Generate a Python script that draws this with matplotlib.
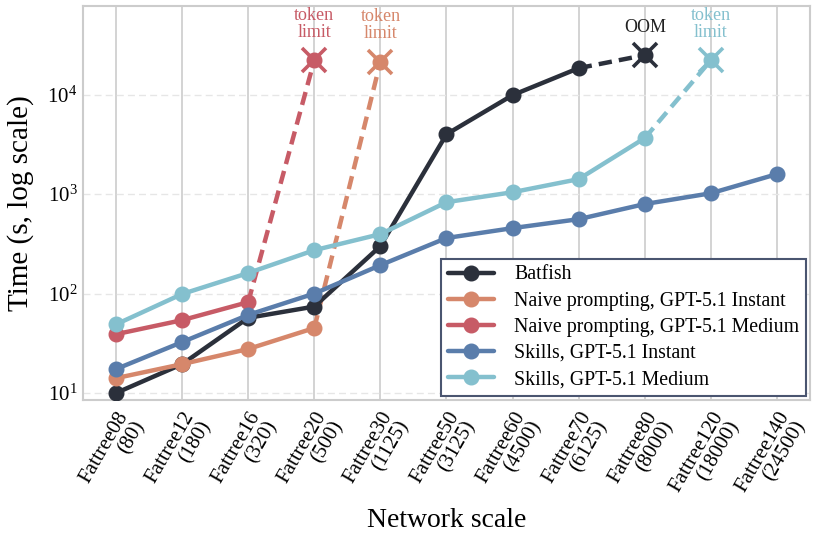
import matplotlib
matplotlib.use("Agg")
import matplotlib.pyplot as plt
import numpy as np

categories = ["Fattree08\n(80)", "Fattree12\n(180)", "Fattree16\n(320)", "Fattree20\n(500)",
              "Fattree30\n(1125)", "Fattree50\n(3125)", "Fattree60\n(4500)", "Fattree70\n(6125)",
              "Fattree80\n(8000)", "Fattree120\n(18000)", "Fattree140\n(24500)"]

batfish = [10, 19.5, 57, 74, 300, 4000, 9900, 18500]
batfish_fail = 25000  # OOM at Fattree80
naive_instant = [14.1, 19.5, 27.7, 45]
naive_instant_fail = 21500  # token limit at Fattree30
naive_medium = [39, 54, 82]
naive_medium_fail = 22300  # token limit at Fattree20
skills_instant = [17.4, 32.5, 61, 100, 193, 362, 455, 560, 795, 1020, 1590]
skills_medium = [49, 99, 161, 273, 396, 830, 1045, 1415, 3660]
skills_medium_fail = 22200  # token limit at Fattree120

colors = {
    "Batfish": "#2b303b",
    "Naive prompting, GPT-5.1 Instant": "#d6876b",
    "Naive prompting, GPT-5.1 Medium": "#c75b66",
    "Skills, GPT-5.1 Instant": "#5a7dab",
    "Skills, GPT-5.1 Medium": "#84c0ce",
}

plt.rcParams['font.family'] = ['Liberation Serif', 'DejaVu Serif']
plt.rcParams['mathtext.fontset'] = 'stix'

fig = plt.figure(figsize=(8.15, 5.34), dpi=100)
ax = fig.add_axes([83/815, 1 - 400/534, (810-83)/815, (400-6)/534])

lw = 3.2
ms = 10.5

series = [
    ("Batfish", batfish, batfish_fail, "OOM"),
    ("Naive prompting, GPT-5.1 Instant", naive_instant, naive_instant_fail, "token\nlimit"),
    ("Naive prompting, GPT-5.1 Medium", naive_medium, naive_medium_fail, "token\nlimit"),
    ("Skills, GPT-5.1 Instant", skills_instant, None, None),
    ("Skills, GPT-5.1 Medium", skills_medium, skills_medium_fail, "token\nlimit"),
]

for name, vals, fail, note in series:
    c = colors[name]
    xs = np.arange(len(vals))
    ax.plot(xs, vals, '-o', color=c, lw=lw, ms=ms, label=name, zorder=3,
            solid_capstyle='round')
    if fail is not None:
        xf = len(vals)
        ax.plot([xf - 1, xf], [vals[-1], fail], '--', color=c, lw=lw, zorder=2,
                dashes=(3, 1.6))
        ax.plot([xf], [fail], 'o', color=c, ms=ms, zorder=4)
        ax.plot([xf], [fail], 'x', color=c, ms=17, mew=2.6, zorder=4)
        txtcolor = c if name != "Batfish" else "#222222"
        ax.annotate(note, (xf, fail), xytext=(0, 14), textcoords='offset points',
                    ha='center', va='bottom', color=txtcolor, fontsize=13,
                    linespacing=1.0)

ax.set_yscale('log')
ax.set_ylim(8.5, 78000)
ax.set_xlim(-0.5, 10.5)
ax.set_xticks(np.arange(len(categories)))
ax.set_xticklabels(categories, rotation=60, ha='right', rotation_mode='anchor',
                   fontsize=15, linespacing=0.95)
ax.tick_params(axis='x', length=0, pad=6)
ax.tick_params(axis='y', length=0, labelsize=15, pad=4)
ax.yaxis.set_minor_locator(matplotlib.ticker.NullLocator())

ax.grid(axis='x', color='#cccccc', lw=1.2, ls='-', zorder=0)
ax.grid(axis='y', color='#e6e6e6', lw=1.0, ls=(0, (5, 3)), zorder=0)
ax.set_axisbelow(True)
for s in ax.spines.values():
    s.set_color('#cccccc')
    s.set_linewidth(1.5)

ax.set_ylabel("Time (s, log scale)", fontsize=21, labelpad=10)
ax.set_xlabel("Network scale", fontsize=20)
ax.xaxis.set_label_coords(0.5, -0.275)

leg = ax.legend(loc='lower right', fontsize=14.3, frameon=True, fancybox=False,
                edgecolor='#4a5570', framealpha=1, borderpad=0.35,
                labelspacing=0.36, handlelength=2.3, handletextpad=1.0,
                bbox_to_anchor=(1.0, 0.0), borderaxespad=0.2)
leg.get_frame().set_linewidth(1.5)

fig.savefig("out.png", dpi=100)
